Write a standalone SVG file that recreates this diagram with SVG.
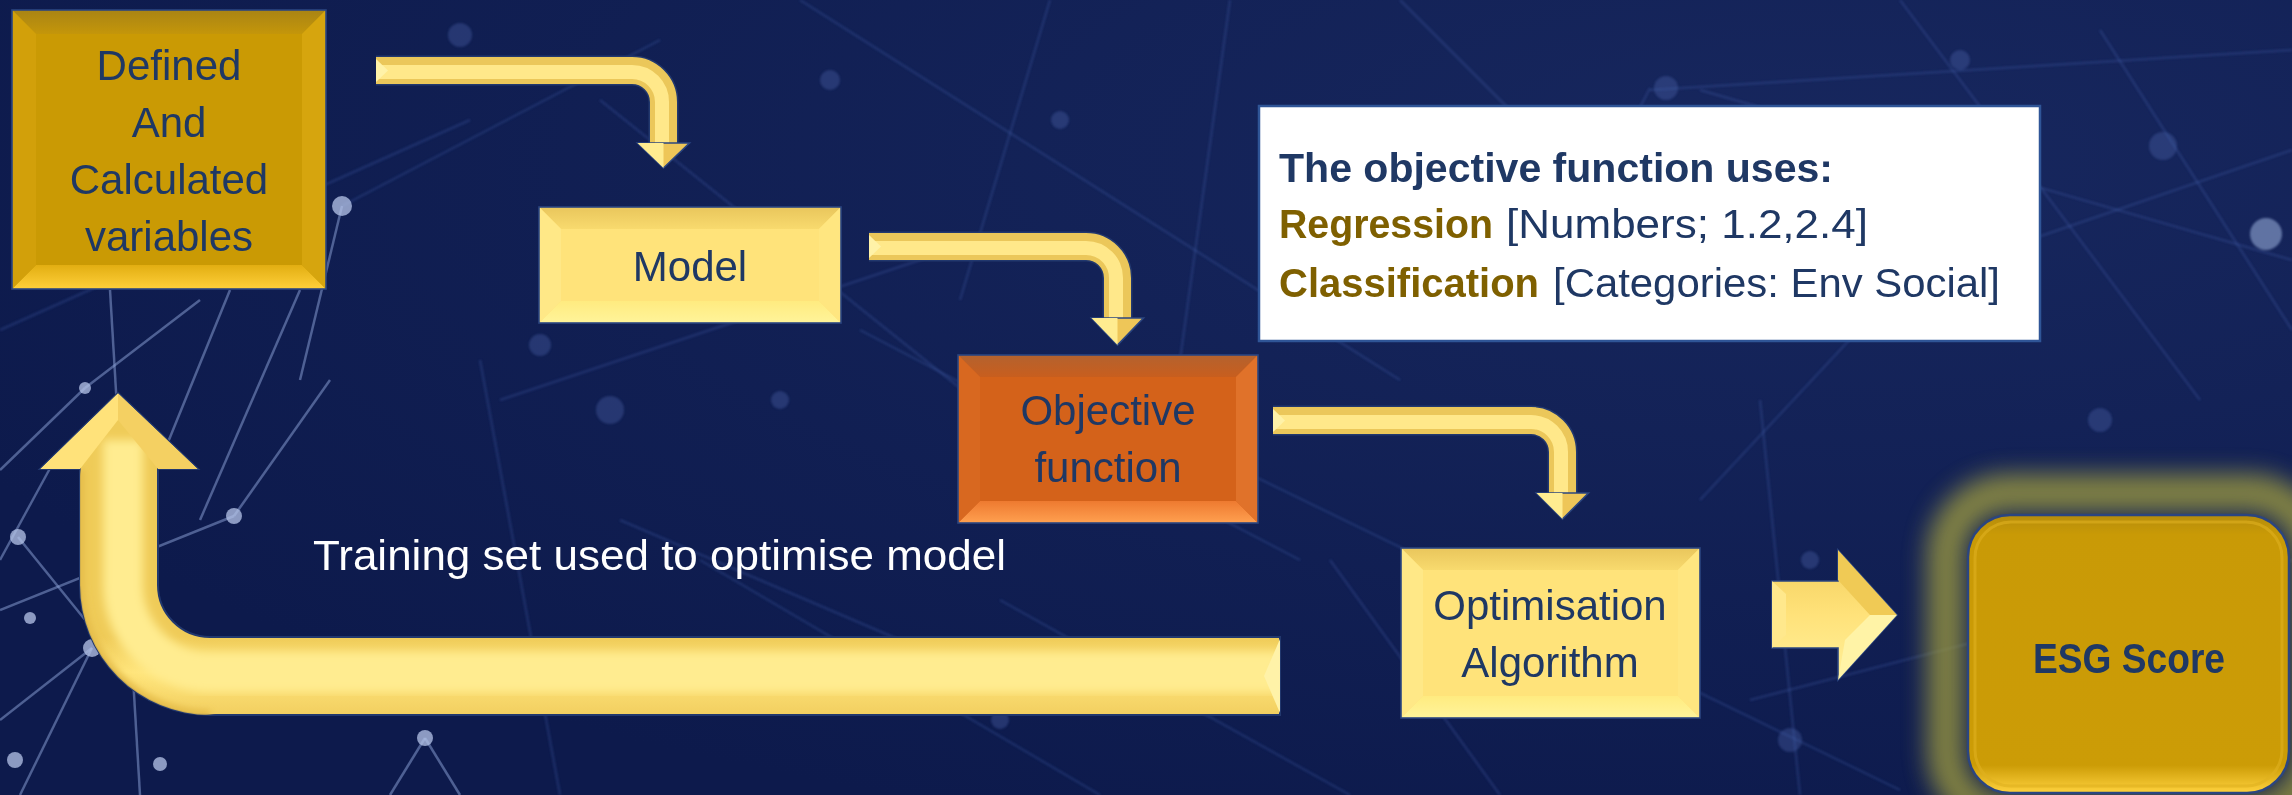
<svg xmlns="http://www.w3.org/2000/svg" width="2292" height="795" viewBox="0 0 2292 795">
<defs>
<style>
.lbl{font-family:"Liberation Sans",Arial,sans-serif;font-size:42px;fill:#1F3864;text-anchor:middle}
.bg-l{stroke:#4462AD;stroke-width:2.5;opacity:.28}
.bg-b{stroke:#8FA5DA;stroke-width:2.5;opacity:.5}
.bg-d{fill:#4C67AE;opacity:.35}
.bg-bd{fill:#B7C5EA;opacity:.75}
.edge{stroke:#2B4580;stroke-width:1.6}
.tb{font-family:"Liberation Sans",Arial,sans-serif;font-size:41px}
</style>
<radialGradient id="bgg" cx="0.8" cy="0.2" r="0.9">
<stop offset="0" stop-color="#17275E"/>
<stop offset="1" stop-color="#0D1A4C"/>
</radialGradient>
<linearGradient id="esgF" x1="0" y1="0" x2="0" y2="1">
<stop offset="0" stop-color="#B58C0C"/>
<stop offset="0.07" stop-color="#C99A06"/>
<stop offset="0.9" stop-color="#CC9C06"/>
<stop offset="1" stop-color="#FFD23E"/>
</linearGradient>
<linearGradient id="uBand" x1="0" y1="637" x2="0" y2="715" gradientUnits="userSpaceOnUse">
<stop offset="0" stop-color="#EFCB58"/>
<stop offset="0.45" stop-color="#FFE57C"/>
<stop offset="1" stop-color="#F2CF60"/>
</linearGradient>
<linearGradient id="blk" x1="0" y1="550" x2="0" y2="680" gradientUnits="userSpaceOnUse">
<stop offset="0" stop-color="#F2CE5C"/>
<stop offset="0.5" stop-color="#FFE27A"/>
<stop offset="1" stop-color="#FFF09A"/>
</linearGradient>
<linearGradient id="botGold" x1="0" y1="0" x2="0" y2="1">
<stop offset="0" stop-color="#E2AE12"/>
<stop offset="1" stop-color="#FFD03A"/>
</linearGradient>
<linearGradient id="topGold" x1="0" y1="0" x2="0" y2="1">
<stop offset="0" stop-color="#A98414"/>
<stop offset="1" stop-color="#C4960A"/>
</linearGradient>
<linearGradient id="botYel" x1="0" y1="0" x2="0" y2="1">
<stop offset="0" stop-color="#FFEB80"/>
<stop offset="1" stop-color="#FFF49A"/>
</linearGradient>
<linearGradient id="topYel" x1="0" y1="0" x2="0" y2="1">
<stop offset="0" stop-color="#E9C65C"/>
<stop offset="1" stop-color="#F8DA6E"/>
</linearGradient>
<linearGradient id="botOr" x1="0" y1="0" x2="0" y2="1">
<stop offset="0" stop-color="#EE7A30"/>
<stop offset="1" stop-color="#FFA050"/>
</linearGradient>
<linearGradient id="topOr" x1="0" y1="0" x2="0" y2="1">
<stop offset="0" stop-color="#B4622E"/>
<stop offset="1" stop-color="#C85E1E"/>
</linearGradient>
<filter id="blur12" x="-20%" y="-20%" width="140%" height="140%"><feGaussianBlur stdDeviation="12"/></filter>
<filter id="blur5" x="-10%" y="-10%" width="120%" height="120%"><feGaussianBlur stdDeviation="5"/></filter>
<filter id="blur3" x="-10%" y="-10%" width="120%" height="120%"><feGaussianBlur stdDeviation="3"/></filter>
<filter id="blur1" x="0" y="0" width="100%" height="100%"><feGaussianBlur stdDeviation="1.3"/></filter>
<clipPath id="uClip">
<path d="M1280 637 H210 A52 52 0 0 1 158 585 V469 H198 L118 393 L40 469 H80 V585 A130 130 0 0 0 210 715 H1280 Z"/>
</clipPath>
</defs>

<g id="background">
<rect x="0" y="0" width="2292" height="795" fill="url(#bgg)"/>
<g filter="url(#blur1)">
<line class="bg-l" x1="0" y1="330" x2="470" y2="120"/>
<line class="bg-l" x1="342" y1="206" x2="660" y2="40"/>
<line class="bg-l" x1="600" y1="100" x2="1000" y2="420"/>
<line class="bg-l" x1="800" y1="0" x2="1400" y2="380"/>
<line class="bg-l" x1="1400" y1="0" x2="1700" y2="300"/>
<line class="bg-l" x1="1700" y1="90" x2="2292" y2="260"/>
<line class="bg-l" x1="1900" y1="0" x2="2200" y2="400"/>
<line class="bg-l" x1="1200" y1="450" x2="1900" y2="790"/>
<line class="bg-l" x1="700" y1="560" x2="1100" y2="795"/>
<line class="bg-l" x1="1000" y1="600" x2="1350" y2="795"/>
<line class="bg-l" x1="1650" y1="90" x2="2292" y2="50"/>
<line class="bg-l" x1="2000" y1="250" x2="2292" y2="150"/>
<line class="bg-l" x1="1750" y1="700" x2="2292" y2="560"/>
<line class="bg-l" x1="1230" y1="0" x2="1180" y2="360"/>
<line class="bg-l" x1="860" y1="330" x2="1300" y2="560"/>
<line class="bg-l" x1="500" y1="400" x2="950" y2="250"/>
<line class="bg-l" x1="480" y1="360" x2="560" y2="795"/>
<line class="bg-l" x1="1050" y1="0" x2="960" y2="300"/>
<line class="bg-l" x1="1330" y1="560" x2="1500" y2="795"/>
<line class="bg-l" x1="1700" y1="500" x2="1980" y2="200"/>
<line class="bg-l" x1="1760" y1="400" x2="1800" y2="795"/>
<line class="bg-l" x1="2100" y1="30" x2="2292" y2="330"/>
<line class="bg-l" x1="1650" y1="88" x2="1540" y2="300"/>
<line class="bg-l" x1="620" y1="520" x2="900" y2="640"/>
<circle class="bg-d" cx="460" cy="35" r="12"/>
<circle class="bg-d" cx="830" cy="80" r="10"/>
<circle class="bg-d" cx="1060" cy="120" r="9"/>
<circle class="bg-d" cx="540" cy="345" r="11"/>
<circle class="bg-d" cx="780" cy="400" r="9"/>
<circle class="bg-d" cx="610" cy="410" r="14"/>
<circle class="bg-d" cx="1130" cy="470" r="10"/>
<circle class="bg-d" cx="1666" cy="88" r="12"/>
<circle class="bg-d" cx="1400" cy="200" r="10"/>
<circle class="bg-d" cx="1810" cy="560" r="9"/>
<circle class="bg-d" cx="1790" cy="740" r="12"/>
<circle class="bg-d" cx="1000" cy="720" r="9"/>
<circle class="bg-d" cx="800" cy="690" r="10"/>
<circle class="bg-d" cx="2163" cy="146" r="14"/>
<circle class="bg-d" cx="1960" cy="60" r="10"/>
<circle class="bg-d" cx="2100" cy="420" r="12"/>
<circle fill="#9FB4E0" opacity="0.55" cx="2266" cy="234" r="16"/>
</g>
<line class="bg-b" x1="110" y1="290" x2="140" y2="795"/>
<line class="bg-b" x1="230" y1="290" x2="120" y2="560"/>
<line class="bg-b" x1="300" y1="290" x2="200" y2="520"/>
<line class="bg-b" x1="0" y1="610" x2="234" y2="516"/>
<line class="bg-b" x1="234" y1="516" x2="330" y2="380"/>
<line class="bg-b" x1="0" y1="720" x2="92" y2="648"/>
<line class="bg-b" x1="92" y1="648" x2="20" y2="795"/>
<line class="bg-b" x1="425" y1="738" x2="390" y2="795"/>
<line class="bg-b" x1="425" y1="738" x2="460" y2="795"/>
<line class="bg-b" x1="342" y1="206" x2="300" y2="380"/>
<line class="bg-b" x1="18" y1="537" x2="150" y2="700"/>
<line class="bg-b" x1="0" y1="470" x2="85" y2="388"/>
<line class="bg-b" x1="85" y1="388" x2="200" y2="300"/>
<line class="bg-b" x1="0" y1="560" x2="60" y2="450"/>
<circle class="bg-bd" cx="342" cy="206" r="10"/>
<circle class="bg-bd" cx="85" cy="388" r="6"/>
<circle class="bg-bd" cx="234" cy="516" r="8"/>
<circle class="bg-bd" cx="18" cy="537" r="8"/>
<circle class="bg-bd" cx="92" cy="648" r="9"/>
<circle class="bg-bd" cx="30" cy="618" r="6"/>
<circle class="bg-bd" cx="425" cy="738" r="8"/>
<circle class="bg-bd" cx="160" cy="764" r="7"/>
<circle class="bg-bd" cx="15" cy="760" r="8"/>
</g>

<g id="connectors">
<g id="arrow-1">
<path d="M376 70.5 H632 A31.5 31.5 0 0 1 663.5 102 V144" fill="none" stroke="#22386E" stroke-width="30"/>
<path d="M376 70.5 H632 A31.5 31.5 0 0 1 663.5 102 V144" fill="none" stroke="#EBC75A" stroke-width="27"/>
<path d="M376 72 H632 A30 30 0 0 1 662 102 V144" fill="none" stroke="#FFE88A" stroke-width="14"/>
<polygon points="376,59 388,70.5 376,82" fill="#FFF2A8"/>
<polygon points="637.5,143 689.5,143 663.5,168" fill="#EEC658" class="edge"/>
<polygon points="637.5,143 663.5,143 663.5,168" fill="#FFEC90"/>
</g>
<g id="arrow-2">
<path d="M869 246.5 H1086 A31.5 31.5 0 0 1 1117.5 278 V319" fill="none" stroke="#22386E" stroke-width="30"/>
<path d="M869 246.5 H1086 A31.5 31.5 0 0 1 1117.5 278 V319" fill="none" stroke="#EBC75A" stroke-width="27"/>
<path d="M869 248 H1086 A30 30 0 0 1 1116 278 V319" fill="none" stroke="#FFE88A" stroke-width="14"/>
<polygon points="869,235 881,246.5 869,258" fill="#FFF2A8"/>
<polygon points="1091.5,318 1143.5,318 1117.5,345" fill="#EEC658" class="edge"/>
<polygon points="1091.5,318 1117.5,318 1117.5,345" fill="#FFEC90"/>
</g>
<g id="arrow-3">
<path d="M1273 420.5 H1531 A31.5 31.5 0 0 1 1562.5 452 V494" fill="none" stroke="#22386E" stroke-width="30"/>
<path d="M1273 420.5 H1531 A31.5 31.5 0 0 1 1562.5 452 V494" fill="none" stroke="#EBC75A" stroke-width="27"/>
<path d="M1273 422 H1531 A30 30 0 0 1 1561 452 V494" fill="none" stroke="#FFE88A" stroke-width="14"/>
<polygon points="1273,409 1285,420.5 1273,432" fill="#FFF2A8"/>
<polygon points="1536.5,493 1588.5,493 1562.5,519" fill="#EEC658" class="edge"/>
<polygon points="1536.5,493 1562.5,493 1562.5,519" fill="#FFEC90"/>
</g>
<g id="arrow-4">
<polygon points="1772,581 1838,581 1838,550 1897,615 1838,680 1838,648 1772,648" fill="url(#blk)" class="edge"/>
<polygon points="1838,550 1897,615 1870,615 1838,580" fill="#F0CA55"/>
<polygon points="1897,615 1838,680 1845,640 1870,615" fill="#FFF3A6"/>
<polygon points="1772,581 1786,594 1786,635 1772,648" fill="#FFE88C"/>
</g>
<g id="arrow-5">
<path d="M1280 637 H210 A52 52 0 0 1 158 585 V469 H198 L118 393 L40 469 H80 V585 A130 130 0 0 0 210 715 H1280 Z" fill="url(#uBand)" stroke="#22386E" stroke-width="2"/>
<g clip-path="url(#uClip)">
<path d="M1280 672 H210 A87 87 0 0 1 123 585 V440" fill="none" stroke="#FFEC90" stroke-width="40" filter="url(#blur5)"/>
<path d="M80 470 V585 A130 130 0 0 0 210 715" fill="none" stroke="#E6BE4C" stroke-width="10" filter="url(#blur3)"/>
<polygon points="118,393 40,469 80,469 118,420" fill="#FFE27A"/>
<polygon points="118,393 198,469 158,469 118,420" fill="#F4D062"/>
</g>
<polygon points="1280,639 1264,676 1280,713" fill="#FFF2A8"/>
</g>
</g>

<g id="node-defined">
<rect x="12" y="10" width="314" height="279" fill="#CA9A04"/>
<polygon points="12,10 326,10 302,34 36,34" fill="url(#topGold)"/>
<polygon points="12,289 326,289 302,265 36,265" fill="url(#botGold)"/>
<polygon points="12,10 36,34 36,265 12,289" fill="#D2A00A"/>
<polygon points="326,10 302,34 302,265 326,289" fill="#D6A50E"/>
<rect x="12" y="10" width="314" height="279" fill="none" class="edge"/>
<text class="lbl" x="169" y="80">Defined</text>
<text class="lbl" x="169" y="137">And</text>
<text class="lbl" x="169" y="194">Calculated</text>
<text class="lbl" x="169" y="251">variables</text>
</g>

<g id="node-model">
<rect x="539" y="207" width="302" height="116" fill="#FFE37A"/>
<polygon points="539,207 841,207 819,229 561,229" fill="url(#topYel)"/>
<polygon points="539,323 841,323 819,301 561,301" fill="url(#botYel)"/>
<polygon points="539,207 561,229 561,301 539,323" fill="#FFE887"/>
<polygon points="841,207 819,229 819,301 841,323" fill="#FFE680"/>
<rect x="539" y="207" width="302" height="116" fill="none" class="edge"/>
<text class="lbl" x="690" y="281">Model</text>
</g>

<g id="node-objective">
<rect x="958" y="355" width="300" height="168" fill="#D4621A"/>
<polygon points="958,355 1258,355 1236,377 980,377" fill="url(#topOr)"/>
<polygon points="958,523 1258,523 1236,501 980,501" fill="url(#botOr)"/>
<polygon points="958,355 980,377 980,501 958,523" fill="#D86820"/>
<polygon points="1258,355 1236,377 1236,501 1258,523" fill="#E0722A"/>
<rect x="958" y="355" width="300" height="168" fill="none" class="edge"/>
<text class="lbl" x="1108" y="425">Objective</text>
<text class="lbl" x="1108" y="482">function</text>
</g>

<g id="node-note">
<rect x="1259" y="106" width="781" height="235" fill="#FFFFFF" stroke="#2F5597" stroke-width="2.5"/>
<text class="tb" x="1279" y="182" font-weight="bold" fill="#1F3864" textLength="554" lengthAdjust="spacingAndGlyphs">The objective function uses:</text>
<text class="tb" x="1279" y="238" font-weight="bold" fill="#7F6000" textLength="214" lengthAdjust="spacingAndGlyphs">Regression</text>
<text class="tb" x="1506" y="238" fill="#1F3864" textLength="362" lengthAdjust="spacingAndGlyphs">[Numbers; 1.2,2.4]</text>
<text class="tb" x="1279" y="297" font-weight="bold" fill="#7F6000" textLength="260" lengthAdjust="spacingAndGlyphs">Classification</text>
<text class="tb" x="1553" y="297" fill="#1F3864" textLength="447" lengthAdjust="spacingAndGlyphs">[Categories: Env Social]</text>
</g>

<g id="node-optimisation">
<rect x="1401" y="548" width="299" height="170" fill="#FFE37A"/>
<polygon points="1401,548 1700,548 1678,570 1423,570" fill="url(#topYel)"/>
<polygon points="1401,718 1700,718 1678,696 1423,696" fill="url(#botYel)"/>
<polygon points="1401,548 1423,570 1423,696 1401,718" fill="#FFE887"/>
<polygon points="1700,548 1678,570 1678,696 1700,718" fill="#FFE680"/>
<rect x="1401" y="548" width="299" height="170" fill="none" class="edge"/>
<text class="lbl" x="1550" y="620">Optimisation</text>
<text class="lbl" x="1550" y="677">Algorithm</text>
</g>

<g id="node-esg">
<rect x="1946" y="493" width="366" height="322" rx="62" fill="none" stroke="#A9A43C" stroke-width="38" opacity="0.75" filter="url(#blur12)"/>
<rect x="1968" y="515" width="321" height="278" rx="42" fill="url(#esgF)" stroke="#2B4580" stroke-width="2.5"/>
<rect x="1975" y="522" width="307" height="264" rx="36" fill="none" stroke="#E0B020" stroke-width="3" opacity="0.6"/>
<text x="2129" y="673" font-family="'Liberation Sans',Arial,sans-serif" font-size="42" font-weight="bold" fill="#1F3864" text-anchor="middle" textLength="192" lengthAdjust="spacingAndGlyphs">ESG Score</text>
</g>

<g id="label-training">
<text x="313" y="570" font-family="'Liberation Sans',Arial,sans-serif" font-size="42" fill="#FFFFFF" textLength="693" lengthAdjust="spacingAndGlyphs">Training set used to optimise model</text>
</g>
</svg>
